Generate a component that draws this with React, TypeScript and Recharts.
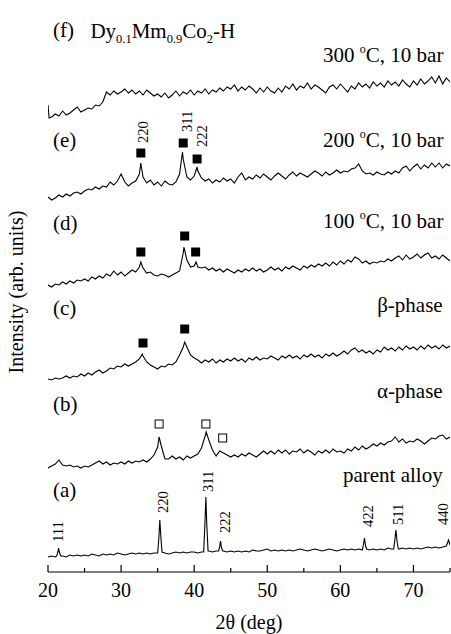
import { LineChart, Line, XAxis, YAxis, ReferenceDot } from "recharts";

const FONT = '"Liberation Serif", "Times New Roman", serif';

// 2θ sampling grid (deg), 0.5° step
const angles = [
  20, 20.5, 21, 21.5, 22, 22.5, 23, 23.5, 24, 24.5,
  25, 25.5, 26, 26.5, 27, 27.5, 28, 28.5, 29, 29.5,
  30, 30.5, 31, 31.5, 32, 32.5, 33, 33.5, 34, 34.5,
  35, 35.5, 36, 36.5, 37, 37.5, 38, 38.5, 39, 39.5,
  40, 40.5, 41, 41.5, 42, 42.5, 43, 43.5, 44, 44.5,
  45, 45.5, 46, 46.5, 47, 47.5, 48, 48.5, 49, 49.5,
  50, 50.5, 51, 51.5, 52, 52.5, 53, 53.5, 54, 54.5,
  55, 55.5, 56, 56.5, 57, 57.5, 58, 58.5, 59, 59.5,
  60, 60.5, 61, 61.5, 62, 62.5, 63, 63.5, 64, 64.5,
  65, 65.5, 66, 66.5, 67, 67.5, 68, 68.5, 69, 69.5,
  70, 70.5, 71, 71.5, 72, 72.5, 73, 73.5, 74, 74.5,
  75,
];

// intensities (stacked, arb. units) on the grid above
const valuesF = [
  467, 455, 458, 456, 461, 457, 459, 462, 465, 460,
  462, 464, 463, 467, 466, 470, 480, 477, 481, 478,
  480, 483, 479, 482, 478, 481, 477, 482, 479, 476,
  478, 475, 479, 474, 477, 481, 476, 480, 478, 482,
  477, 481, 479, 483, 478, 482, 480, 484, 481, 485,
  483, 487, 481, 485, 482, 486, 483, 479, 484, 480,
  485, 481, 479, 484, 480, 486, 483, 488, 482, 486,
  484, 489, 483, 487, 485, 482, 479, 485, 487, 483,
  488, 484, 480, 486, 483, 489, 485, 488, 484, 490,
  486, 489, 485, 491, 487, 490, 486, 492, 488, 485,
  491, 487, 493, 488, 491, 495, 489, 496, 488, 494,
  490,
];
const valuesE = [
  375, 372, 374, 377, 375, 378, 376, 379, 380, 378,
  381, 383, 382, 385, 383, 386, 385, 390, 387, 391,
  398, 390, 386, 389, 391, 398, 395, 389, 392, 387,
  390, 386, 391, 388, 387, 390, 398, 413, 395, 392,
  396, 401, 394, 391, 393, 389, 392, 390, 394, 391,
  393, 389, 395, 399, 392, 395, 393, 397, 394, 398,
  395, 392, 396, 399, 396, 393, 397, 400, 396, 399,
  397, 395, 398, 401, 399, 396, 400, 397, 399, 402,
  399, 401, 400, 403, 404, 408, 401, 398, 399, 397,
  400, 398, 397, 400, 398, 401, 399, 404, 406, 401,
  405, 408, 403, 407, 404, 409, 405, 409, 404, 408,
  406,
];
const valuesD = [
  287, 285, 288, 287, 290, 288, 291, 289, 292, 291,
  293, 291, 295, 293, 296, 294, 298, 296, 301, 297,
  300, 296, 299, 302, 300, 305, 304, 299, 300, 297,
  296, 298, 297, 295, 297, 299, 301, 319, 312, 305,
  306, 305, 304, 305, 302, 304, 301, 303, 300, 303,
  301, 299, 302, 300, 303, 301, 304, 301, 303, 300,
  302, 305, 302, 304, 301, 305, 303, 306, 304, 302,
  306, 304, 307, 305, 308, 306, 309, 306, 310, 307,
  311, 308, 312, 310, 315, 313, 309, 311, 308, 310,
  309, 311, 310, 313, 311, 314, 316, 312, 317, 313,
  315, 318, 314, 317, 319, 314, 316, 313, 317, 314,
  311,
];
const valuesC = [
  193, 192, 194, 193, 194, 196, 194, 196, 195, 198,
  196, 199, 197, 200, 202, 199, 201, 204, 203, 206,
  205, 208, 206, 208, 210, 213, 216, 210, 207, 205,
  203, 206, 205, 208, 207, 210, 217, 225, 225, 217,
  214, 212, 209, 212, 210, 213, 209, 212, 210, 213,
  211, 214, 211, 213, 210, 214, 212, 215, 212, 214,
  213, 216, 214, 212, 216, 214, 217, 214, 216, 213,
  217, 215, 218, 215, 217, 214, 218, 216, 219, 216,
  218, 221, 218, 222, 224, 220, 222, 219, 221, 218,
  222, 220, 225, 222, 224, 221, 225, 222, 226, 223,
  225, 222, 226, 223, 227, 224, 226, 223, 227, 224,
  226,
];
const valuesB = [
  104, 106, 108, 112, 107, 106, 107, 105, 106, 104,
  106, 105, 107, 109, 111, 108, 110, 107, 109, 108,
  110, 108, 111, 109, 111, 110, 112, 110, 113, 117,
  125, 126, 113, 113, 116, 113, 115, 112, 116, 114,
  116, 118, 124, 136, 132, 122, 116, 121, 119, 117,
  115, 117, 115, 118, 116, 119, 117, 115, 118, 121,
  118, 121, 118, 122, 119, 122, 118, 121, 120, 123,
  119, 122, 120, 117, 121, 119, 122, 119, 123, 120,
  121, 119, 123, 121, 125, 122, 126, 123, 125, 128,
  126, 129, 127, 130, 131, 135, 130, 133, 129, 131,
  130, 133, 131, 128, 131, 134, 133, 136, 137, 133,
  135,
];
const valuesA = [
  15, 16, 15, 16, 16, 15, 17, 16, 17, 16,
  17, 16, 18, 17, 16, 18, 17, 18, 17, 19,
  18, 17, 18, 19, 18, 19, 18, 19, 18, 19,
  19, 19, 19, 18, 19, 20, 19, 20, 19, 20,
  20, 19, 20, 20, 21, 20, 21, 21, 21, 20,
  21, 20, 21, 20, 21, 20, 22, 21, 21, 22,
  23, 21, 22, 21, 22, 21, 22, 21, 22, 23,
  22, 21, 22, 23, 22, 21, 22, 23, 22, 21,
  22, 23, 22, 23, 22, 23, 22, 23, 22, 23,
  22, 23, 22, 24, 23, 23, 23, 24, 23, 24,
  23, 24, 23, 24, 25, 24, 25, 24, 25, 26,
  27,
];

// Bragg peaks, [2θ, intensity] points that replace the grid across their span
const peaksF: [number, number][][] = [[[20.15, 454]]];
const peaksE: [number, number][][] = [[[32.7, 409]], [[38.4, 420]], [[40.4, 405]]];
const peaksD: [number, number][][] = [[[32.7, 310]], [[38.6, 325]], [[40.25, 310]]];
const peaksC: [number, number][][] = [[[32.9, 218]], [[38.7, 230]]];
const peaksB: [number, number][][] = [[[35.2, 135]], [[41.65, 140]]];
const peaksA: [number, number][][] = [
  [[21.2, 16], [21.35, 20], [21.45, 24], [21.55, 20], [21.75, 16]],
  [[35.0, 19], [35.15, 32], [35.3, 52], [35.45, 34], [35.6, 20]],
  [[41.3, 20], [41.45, 45], [41.6, 75], [41.72, 48], [41.9, 21]],
  [[43.35, 21], [43.5, 26], [43.6, 31], [43.72, 25], [43.9, 21]],
  [[63.0, 22], [63.15, 27], [63.3, 34], [63.45, 26], [63.6, 23]],
  [[67.3, 23], [67.45, 32], [67.6, 42], [67.75, 31], [67.9, 24]],
  [[74.5, 26], [74.65, 29], [74.8, 32], [74.92, 29]],
];

// markers: filled = β-phase, open = α-phase
const filledMarks: [number, number][] = [
  [32.7, 419], [38.5, 429], [40.4, 413],
  [32.7, 320], [38.7, 336], [40.2, 320],
  [33.0, 229], [38.7, 243],
];
const openMarks: [number, number][] = [[35.2, 148], [41.6, 148], [43.9, 134]];

// Miller indices: label, 2θ of baseline, level of text start
const hklLabels: [string, number, number][] = [
  ["111", 22.1, 30], ["220", 36.4, 59], ["311", 42.6, 80], ["222", 44.9, 39],
  ["422", 64.5, 45], ["511", 68.6, 47], ["440", 74.75, 47],
  ["220", 33.7, 429], ["311", 39.7, 440], ["222", 41.75, 425],
];

const panelTags: [string, number][] = [
  ["(f)", 535], ["(e)", 425], ["(d)", 342], ["(c)", 257], ["(b)", 161], ["(a)", 75],
];

const tempLabels: [string, number][] = [["300", 510], ["200", 425], ["100", 344]];
const phaseLabels: [string, number][] = [["β-phase", 260], ["α-phase", 174], ["parent alloy", 90]];

const xTicks = [20, 25, 30, 35, 40, 45, 50, 55, 60, 65, 70, 75];
const yTicks = [
  7.5, 15, 22.5, 30, 37.5, 45, 52.5, 60, 67.5, 75, 82.5, 90, 97.5, 105, 112.5, 120,
  127.5, 135, 142.5, 150, 157.5, 165, 172.5, 180, 187.5, 195, 202.5, 210, 217.5, 225,
  232.5, 240, 247.5, 255, 262.5, 270, 277.5, 285, 292.5, 300, 307.5, 315, 322.5, 330,
  337.5, 345, 352.5, 360, 367.5, 375, 382.5, 390, 397.5, 405, 412.5, 420, 427.5, 435,
  442.5, 450, 457.5, 465, 472.5, 480, 487.5, 495, 502.5, 510, 517.5, 525, 532.5, 540,
  547.5, 555,
];

function buildTrace(values: number[], peaks: [number, number][][]) {
  const pts = angles
    .map((a, i) => ({ a, v: values[i] }))
    .filter((p) => !peaks.some((c) => p.a >= c[0][0] && p.a <= c[c.length - 1][0]));
  peaks.forEach((c) => c.forEach(([a, v]) => pts.push({ a, v })));
  return pts.sort((p, q) => p.a - q.a);
}

const traces = [
  buildTrace(valuesA, peaksA),
  buildTrace(valuesB, peaksB),
  buildTrace(valuesC, peaksC),
  buildTrace(valuesD, peaksD),
  buildTrace(valuesE, peaksE),
  buildTrace(valuesF, peaksF),
];

const BottomTick = (props: any) => {
  const { x, y, payload } = props;
  const major = payload.value % 10 === 0;
  return (
    <g>
      <line x1={x} x2={x} y1={y} y2={y - (major ? 7 : 4)} stroke="#000" strokeWidth={1.2} />
      {major && payload.value < 75 && (
        <text x={x} y={y + 25} textAnchor="middle" fontSize={20} fontFamily={FONT} fill="#000">
          {payload.value}
        </text>
      )}
    </g>
  );
};

const TopTick = (props: any) => {
  const { x, y, payload } = props;
  const major = payload.value % 10 === 0;
  return <line x1={x} x2={x} y1={y} y2={y + (major ? 6 : 4)} stroke="#000" strokeWidth={1.2} />;
};

const LeftTick = (props: any) => {
  const { x, y } = props;
  return <line x1={x} x2={x + 3} y1={y} y2={y} stroke="#000" strokeWidth={1} />;
};

const textProps = { fontFamily: FONT, fill: "#000" };

export default function App() {
  return (
    <div style={{ position: "absolute", left: 0, top: 0, background: "#fff" }}>
      <LineChart width={451} height={634} margin={{ top: 12, right: 1, bottom: 0, left: 48 }}>
        <XAxis
          type="number"
          dataKey="a"
          domain={[20, 75]}
          ticks={xTicks}
          interval={0}
          height={62}
          tickSize={0}
          tickMargin={0}
          tickLine={false}
          tick={<BottomTick />}
          axisLine={{ stroke: "#000", strokeWidth: 1.2 }}
          allowDataOverflow
          label={{
            content: (p: any) => (
              <text
                x={p.viewBox.x + p.viewBox.width / 2}
                y={p.viewBox.y + 57}
                textAnchor="middle"
                fontSize={20}
                {...textProps}
              >
                2θ (deg)
              </text>
            ),
          }}
        />
        <XAxis
          xAxisId="top"
          orientation="top"
          type="number"
          dataKey="a"
          domain={[20, 75]}
          ticks={xTicks}
          interval={0}
          height={0}
          tickSize={0}
          tickMargin={0}
          tickLine={false}
          tick={<TopTick />}
          axisLine={{ stroke: "#000", strokeWidth: 1.2 }}
        />
        <YAxis
          type="number"
          domain={[0, 560]}
          ticks={yTicks}
          interval={0}
          width={0}
          tickSize={0}
          tickMargin={0}
          tickLine={false}
          tick={<LeftTick />}
          axisLine={{ stroke: "#000", strokeWidth: 1.2 }}
          allowDataOverflow
        />
        <YAxis
          yAxisId="right"
          orientation="right"
          type="number"
          domain={[0, 560]}
          width={0}
          tick={false}
          tickLine={false}
          axisLine={{ stroke: "#000", strokeWidth: 1.2 }}
        />

        {traces.map((t, i) => (
          <Line
            key={i}
            data={t}
            dataKey="v"
            type="linear"
            stroke="#000"
            strokeWidth={1.1}
            dot={false}
            activeDot={false}
            isAnimationActive={false}
          />
        ))}

        {/* y-axis title, placed left of the frame */}
        <ReferenceDot
          x={16.6}
          y={280}
          r={1}
          ifOverflow="visible"
          shape={(p: any) => (
            <text
              transform={`translate(${p.cx}, ${p.cy}) rotate(-90)`}
              textAnchor="middle"
              fontSize={20}
              {...textProps}
            >
              Intensity (arb. units)
            </text>
          )}
        />

        {filledMarks.map(([a, v], i) => (
          <ReferenceDot
            key={`f${i}`}
            x={a}
            y={v}
            r={1}
            ifOverflow="visible"
            shape={(p: any) => <rect x={p.cx - 4.5} y={p.cy - 4.5} width={9} height={9} fill="#000" />}
          />
        ))}
        {openMarks.map(([a, v], i) => (
          <ReferenceDot
            key={`o${i}`}
            x={a}
            y={v}
            r={1}
            ifOverflow="visible"
            shape={(p: any) => (
              <rect x={p.cx - 4} y={p.cy - 4} width={8} height={8} fill="#fff" stroke="#000" strokeWidth={1} />
            )}
          />
        ))}
        {hklLabels.map(([s, a, v], i) => (
          <ReferenceDot
            key={`h${i}`}
            x={a}
            y={v}
            r={1}
            ifOverflow="visible"
            shape={(p: any) => (
              <text transform={`translate(${p.cx}, ${p.cy}) rotate(-90)`} fontSize={14.5} {...textProps}>
                {s}
              </text>
            )}
          />
        ))}
        {panelTags.map(([s, v], i) => (
          <ReferenceDot
            key={`p${i}`}
            x={20.68}
            y={v}
            r={1}
            ifOverflow="visible"
            shape={(p: any) => (
              <text x={p.cx} y={p.cy} fontSize={21} {...textProps}>
                {s}
              </text>
            )}
          />
        ))}
        <ReferenceDot
          x={25.8}
          y={534}
          r={1}
          ifOverflow="visible"
          shape={(p: any) => (
            <text x={p.cx} y={p.cy} fontSize={21} {...textProps}>
              Dy
              <tspan fontSize={12.5} dy={5}>0.1</tspan>
              <tspan dy={-5}>Mm</tspan>
              <tspan fontSize={12.5} dy={5}>0.9</tspan>
              <tspan dy={-5}>Co</tspan>
              <tspan fontSize={12.5} dy={5}>2</tspan>
              <tspan dy={-5}>-H</tspan>
            </text>
          )}
        />
        {tempLabels.map(([s, v], i) => (
          <ReferenceDot
            key={`t${i}`}
            x={74.1}
            y={v}
            r={1}
            ifOverflow="visible"
            shape={(p: any) => (
              <text x={p.cx} y={p.cy} textAnchor="end" fontSize={21} {...textProps}>
                {s}{" "}
                <tspan fontSize={12} dy={-9}>o</tspan>
                <tspan dy={9}>C, 10 bar</tspan>
              </text>
            )}
          />
        ))}
        {phaseLabels.map(([s, v], i) => (
          <ReferenceDot
            key={`ph${i}`}
            x={74.0}
            y={v}
            r={1}
            ifOverflow="visible"
            shape={(p: any) => (
              <text x={p.cx} y={p.cy} textAnchor="end" fontSize={21} {...textProps}>
                {s}
              </text>
            )}
          />
        ))}
      </LineChart>
    </div>
  );
}
